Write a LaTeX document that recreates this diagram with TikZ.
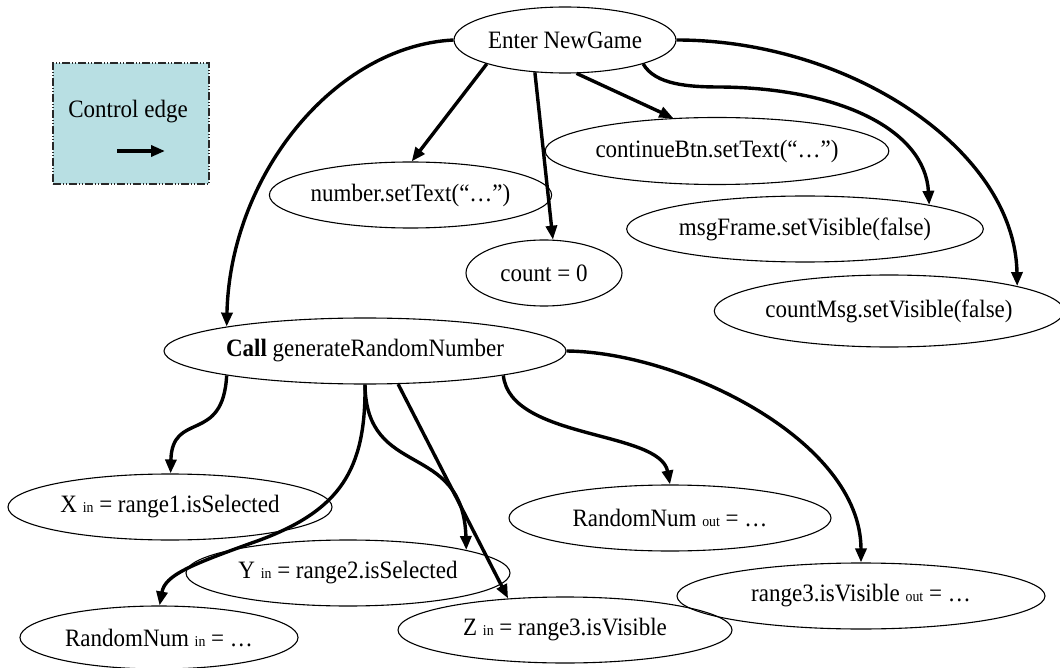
\documentclass[tikz,border=0pt]{standalone}
\usepackage{fontspec}
\setmainfont{Liberation Serif}[FakeStretch=0.92]
\usetikzlibrary{shapes.geometric,arrows.meta}
\definecolor{legendfill}{RGB}{184,223,227}
\definecolor{legendline}{RGB}{40,40,40}
\newcommand\smalltag[1]{{\fontsize{15}{15}\selectfont #1}}
\begin{document}
\begin{tikzpicture}[x=1pt,y=-1pt,
  ell/.style={ellipse,draw=black,line width=1.1pt,inner sep=0pt,
    font=\fontsize{25}{28}\selectfont},
  ctl/.style={line width=3.4pt,-{Triangle[length=14pt,width=11pt]}},
  legendbox/.style={draw=legendline,fill=legendfill,line width=1.2pt,
    dash pattern=on 8pt off 2pt on 1pt off 2pt on 1pt off 2pt,inner sep=0pt},
]
\useasboundingbox (0,0) rectangle (1060,668);

% legend
\node[legendbox,minimum width=156pt,minimum height=121pt] (legend) at (131,123.5) {};
\node[font=\fontsize{25}{28}\selectfont,inner sep=0pt] (legendtext) at (128,112) {Control edge};
\coordinate (la) at (117,151);
\coordinate (lb) at (165,151);
\draw[ctl] (la) -- (lb);

% nodes
\node[ell,minimum width=222pt,minimum height=66pt] (enter) at (565,40) {Enter NewGame};
\node[ell,minimum width=269pt,minimum height=66pt] (number) at (410.5,195) {number.setText(“…”)};
\node[ell,minimum width=342pt,minimum height=67pt] (cont) at (717,151) {continueBtn.setText(“…”)};
\node[ell,minimum width=156pt,minimum height=66pt] (count) at (544,273) {count = 0};
\node[ell,minimum width=344pt,minimum height=66pt] (msg) at (805,229) {msgFrame.setVisible(false)};
\node[ell,minimum width=336pt,minimum height=72pt] (cmsg) at (889,311) {countMsg.setVisible(false)};
\node[ell,minimum width=402pt,minimum height=66pt] (call) at (365,351) {\textbf{Call} generateRandomNumber};
\node[ell,minimum width=324pt,minimum height=66pt] (xin) at (170,507) {X \smalltag{in} = range1.isSelected};
\node[ell,minimum width=324pt,minimum height=66pt] (yin) at (348,573) {Y \smalltag{in} = range2.isSelected};
\node[ell,minimum width=278pt,minimum height=63pt] (rnin) at (159,637.5) {RandomNum \smalltag{in} = …};
\node[ell,minimum width=334pt,minimum height=66pt] (zin) at (565,630) {Z \smalltag{in} = range3.isVisible};
\node[ell,minimum width=322pt,minimum height=66pt] (rnout) at (670,518) {RandomNum \smalltag{out} = …};
\node[ell,minimum width=368pt,minimum height=66pt] (r3out) at (861,596) {range3.isVisible \smalltag{out} = …};

% control edges from the entry node
\draw[ctl] (enter.180) .. controls (335,46) and (230,175) .. (call.170);
\draw[ctl] (enter.197) -- (number.88);
\draw[ctl] (enter.227) -- (count.75);
\draw[ctl] (enter.289) -- (cont.143);
\draw[ctl] (enter.343) .. controls (655,85) and (690,87) .. (720,87)
  .. controls (840,88) and (925,130) .. (msg.11);
\draw[ctl] (enter.0) .. controls (850,40) and (1015,150) .. (cmsg.11);

% control edges from the call node
\draw[ctl] (call.190) .. controls (223,445) and (172,410) .. (xin.89);
\draw[ctl] (call.270) .. controls (366,480) and (463,440) .. (yin.11);
\draw[ctl] (call.270) .. controls (366,470) and (340,510) .. (260,540)
  .. controls (190,565) and (165,575) .. (rnin.89);
\draw[ctl] (call.315) -- (zin.151);
\draw[ctl] (call.350) .. controls (510,440) and (660,430) .. (rnout.90);
\draw[ctl] (call.0) .. controls (680,352) and (861,440) .. (r3out.90);
\end{tikzpicture}
\end{document}
